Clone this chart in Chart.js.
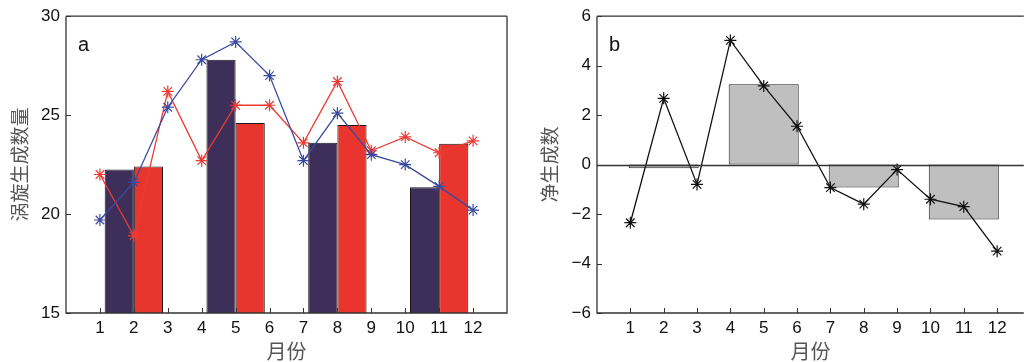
<!DOCTYPE html>
<html>
<head>
<meta charset="utf-8">
<script src="https://cdn.jsdelivr.net/npm/chart.js@4.4.1/dist/chart.umd.min.js"></script>
<style>
    html, body { margin: 0; padding: 0; background: #fff; overflow: hidden; }
    #wrap { position: relative; width: 1031px; height: 362px; }
    .panel { position: absolute; top: 0; height: 362px; }
    #panelA { left: 0; width: 520px; }
    #panelB { left: 530px; width: 501px; }
</style>
</head>
<body>
<div id="wrap">
    <div class="panel" id="panelA"><canvas id="chartA"></canvas></div>
    <div class="panel" id="panelB"><canvas id="chartB"></canvas></div>
</div>
<script>
// ---- data ----
const months = [1, 2, 3, 4, 5, 6, 7, 8, 9, 10, 11, 12];
const seasonX = [2, 5, 8, 11];

// panel a: eddy counts
const blueLine = [19.7, 21.6, 25.4, 27.8, 28.7, 27.0, 22.7, 25.1, 23.0, 22.5, 21.4, 20.2];
const redLine = [22.0, 18.9, 26.2, 22.7, 25.5, 25.5, 23.6, 26.7, 23.2, 23.9, 23.1, 23.7];
const navyBars = [22.25, 27.8, 23.6, 21.35];
const redBars = [22.4, 24.6, 24.5, 23.55];

// panel b: net generation
const netLine = [-2.35, 2.68, -0.8, 5.02, 3.18, 1.55, -0.93, -1.6, -0.2, -1.4, -1.7, -3.5];
const netBars = [-0.15, 3.25, -0.93, -2.22];

const yTicksA = [15, 20, 25, 30];
const yTicksB = [-6, -4, -2, 0, 2, 4, 6];

const NAVY = '#3e2f5a';
const RED = '#e8362e';
const BLUE_LINE = '#3a4a9e';
const RED_LINE = '#ec3b34';
const AXIS = '#333333';

const tickFont = { family: 'Liberation Sans, Arial, sans-serif', size: 17 };
const cjkFont = { family: 'Noto Sans CJK SC', size: 19, lineHeight: 1 };

const pts = (xs, ys) => xs.map((x, i) => ({ x: x, y: ys[i] }));

// frame + inward tick marks, MATLAB style
function framePlugin(yTicks, drawRight, zeroLine) {
    return {
        id: 'frame',
        afterDatasetsDraw(chart) {
            const { ctx, chartArea: a, scales } = chart;
            ctx.save();
            ctx.strokeStyle = AXIS;
            ctx.lineWidth = 1.3;
            if (zeroLine) {
                const y0 = Math.round(scales.y.getPixelForValue(0)) + 0.5;
                ctx.beginPath();
                ctx.moveTo(a.left, y0);
                ctx.lineTo(a.right, y0);
                ctx.stroke();
            }
            ctx.beginPath();
            ctx.moveTo(a.left, a.top);
            ctx.lineTo(a.right, a.top);
            ctx.moveTo(a.left, a.top);
            ctx.lineTo(a.left, a.bottom);
            ctx.lineTo(a.right, a.bottom);
            if (drawRight) ctx.lineTo(a.right, a.top);
            ctx.stroke();
            ctx.lineWidth = 1;
            ctx.beginPath();
            yTicks.forEach(v => {
                const y = Math.round(scales.y.getPixelForValue(v)) + 0.5;
                ctx.moveTo(a.left, y);
                ctx.lineTo(a.left + 5, y);
            });
            months.forEach(m => {
                const x = Math.round(scales.x.getPixelForValue(m)) + 0.5;
                ctx.moveTo(x, a.bottom);
                ctx.lineTo(x, a.bottom - 5);
            });
            ctx.stroke();
            ctx.restore();
        }
    };
}

function panelLabel(text) {
    return {
        id: 'panelLabel',
        afterDraw(chart) {
            const { ctx, chartArea: a } = chart;
            ctx.save();
            ctx.font = '20px Liberation Sans, Arial, sans-serif';
            ctx.fillStyle = '#111';
            ctx.textBaseline = 'middle';
            ctx.fillText(text, a.left + 12, a.top + 29);
            ctx.restore();
        }
    };
}

function xAxis(max) {
    return {
        type: 'linear',
        min: 0,
        max: max,
        offset: false,
        grid: { display: false, drawTicks: false },
        border: { display: false },
        afterBuildTicks: s => { s.ticks = months.map(v => ({ value: v })); },
        afterFit: s => { s.height = 49; },
        ticks: { font: tickFont, color: '#111', padding: 5, maxRotation: 0, autoSkip: false },
        title: {
            display: true, text: '月份', color: '#555',
            font: { family: 'Noto Sans CJK SC', size: 20, lineHeight: 1.05 },
            padding: { top: 0, bottom: 0 }
        }
    };
}

function yAxis(min, max, ticks, width, title, fmt) {
    return {
        min: min,
        max: max,
        grid: { display: false, drawTicks: false },
        border: { display: false },
        afterBuildTicks: s => { s.ticks = ticks.map(v => ({ value: v })); },
        afterFit: s => { s.width = width; },
        ticks: { font: tickFont, color: '#111', padding: 6, callback: fmt },
        title: {
            display: true, text: title, color: '#555', font: cjkFont,
            padding: { top: 10.5, bottom: 0 }
        }
    };
}

const common = {
    responsive: true,
    maintainAspectRatio: false,
    animation: false,
    events: [],
    plugins: { legend: { display: false }, tooltip: { enabled: false } }
};

function lineSet(data, color) {
    return {
        type: 'line', order: 0, data: data,
        borderColor: color, borderWidth: 1.3,
        pointStyle: 'star', pointRadius: 6, pointBorderColor: color,
        pointBorderWidth: 1.2, pointBackgroundColor: color, fill: false, tension: 0
    };
}

// ---- panel a ----
// bar width is measured against the 1-month tick spacing
new Chart(document.getElementById('chartA'), {
    type: 'bar',
    data: {
        datasets: [
            lineSet(pts(months, blueLine), BLUE_LINE),
            lineSet(pts(months, redLine), RED_LINE),
            {
                order: 1, data: pts(seasonX, navyBars), backgroundColor: NAVY,
                borderColor: '#1a1a1a', borderWidth: 1, borderSkipped: 'bottom',
                barPercentage: 1, categoryPercentage: 1.72
            },
            {
                order: 1, data: pts(seasonX, redBars), backgroundColor: RED,
                borderColor: '#1a1a1a', borderWidth: 1, borderSkipped: 'bottom',
                barPercentage: 1, categoryPercentage: 1.72
            }
        ]
    },
    options: Object.assign({}, common, {
        layout: { padding: { top: 16, right: 13, left: 0, bottom: 0 } },
        scales: {
            x: xAxis(13),
            y: yAxis(15, 30, yTicksA, 66, '涡旋生成数量', v => v)
        }
    }),
    plugins: [framePlugin(yTicksA, true, false), panelLabel('a')]
});

// ---- panel b ----
new Chart(document.getElementById('chartB'), {
    type: 'bar',
    data: {
        datasets: [
            lineSet(pts(months, netLine), '#111111'),
            {
                order: 1, data: pts(seasonX, netBars), backgroundColor: '#bfbfbf',
                borderColor: '#222', borderWidth: 1, borderSkipped: false,
                barPercentage: 1, categoryPercentage: 2.1
            }
        ]
    },
    options: Object.assign({}, common, {
        layout: { padding: { top: 16, right: 0, left: 0, bottom: 0 } },
        scales: {
            x: xAxis(12.8),
            y: yAxis(-6, 6, yTicksB, 67, '净生成数', v => (v < 0 ? '\u2212' + Math.abs(v) : v))
        }
    }),
    plugins: [framePlugin(yTicksB, false, true), panelLabel('b')]
});
</script>
</body>
</html>
